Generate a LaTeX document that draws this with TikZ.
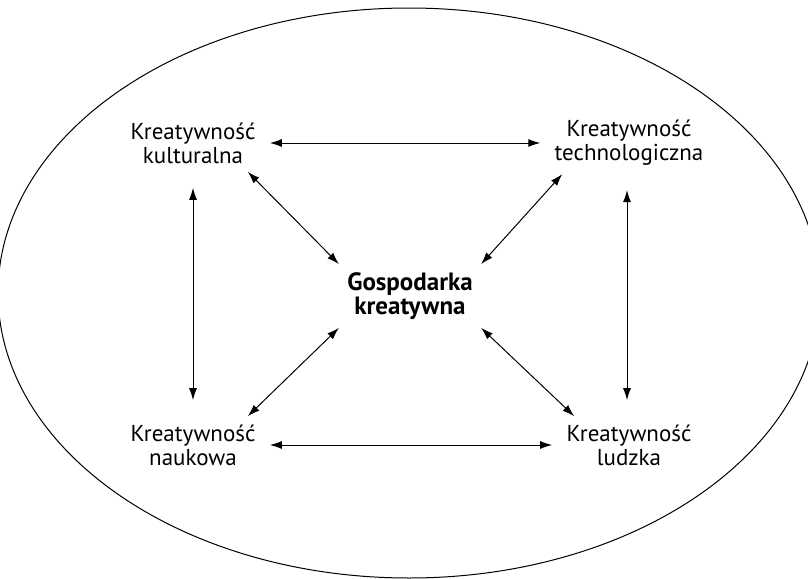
\documentclass[tikz,border=0pt]{standalone}
\usepackage{fontspec}
\setmainfont{PT Sans}
\usetikzlibrary{arrows.meta}
\begin{document}
\begin{tikzpicture}[x=0.5pt, y=-0.5pt,
    txt/.style={align=center, font=\fontsize{11.5}{12}\selectfont, inner sep=0pt},
    link/.style={{Latex[length=6pt,width=4pt]}-{Latex[length=6pt,width=4pt]}, line width=0.5pt}]
    \useasboundingbox (0,0) rectangle (808,578);
    \begin{scope}
      \clip (0,0) rectangle (808,578);
      \draw [line width=0.5pt] (409,293) ellipse [x radius=411, y radius=285];
    \end{scope}
    \node [txt] (kult) at (193,143) {Kreatywność\\kulturalna};
    \node [txt] (tech) at (629,143) {Kreatywność\\technologiczna};
    \node [txt, font=\fontsize{12.5}{12}\selectfont\bfseries] (gosp) at (410,296) {Gospodarka\\kreatywna};
    \node [txt] (nauk) at (193,445) {Kreatywność\\naukowa};
    \node [txt] (ludz) at (629,445) {Kreatywność\\ludzka};
    \draw [link] ([xshift=7pt]kult.east) -- ([xshift=-7pt]tech.west);
    \draw [link] ([xshift=7pt]nauk.east) -- ([xshift=-7pt]ludz.west);
    \draw [link] ([yshift=-12pt]kult.south) -- ([yshift=12pt]nauk.north);
    \draw [link] ([xshift=-1pt,yshift=-12pt]tech.south) -- ([xshift=-1pt,yshift=12pt]ludz.north);
    \draw [link] ([xshift=-4pt,yshift=-4pt]kult.south east) -- ([xshift=-4pt,yshift=4pt]gosp.north west);
    \draw [link] ([xshift=4pt,yshift=-4pt]tech.south west) -- ([xshift=4pt,yshift=4pt]gosp.north east);
    \draw [link] ([xshift=-4pt,yshift=4pt]nauk.north east) -- ([xshift=-4pt,yshift=-4pt]gosp.south west);
    \draw [link] ([xshift=4pt,yshift=4pt]ludz.north west) -- ([xshift=4pt,yshift=-4pt]gosp.south east);
\end{tikzpicture}
\end{document}
